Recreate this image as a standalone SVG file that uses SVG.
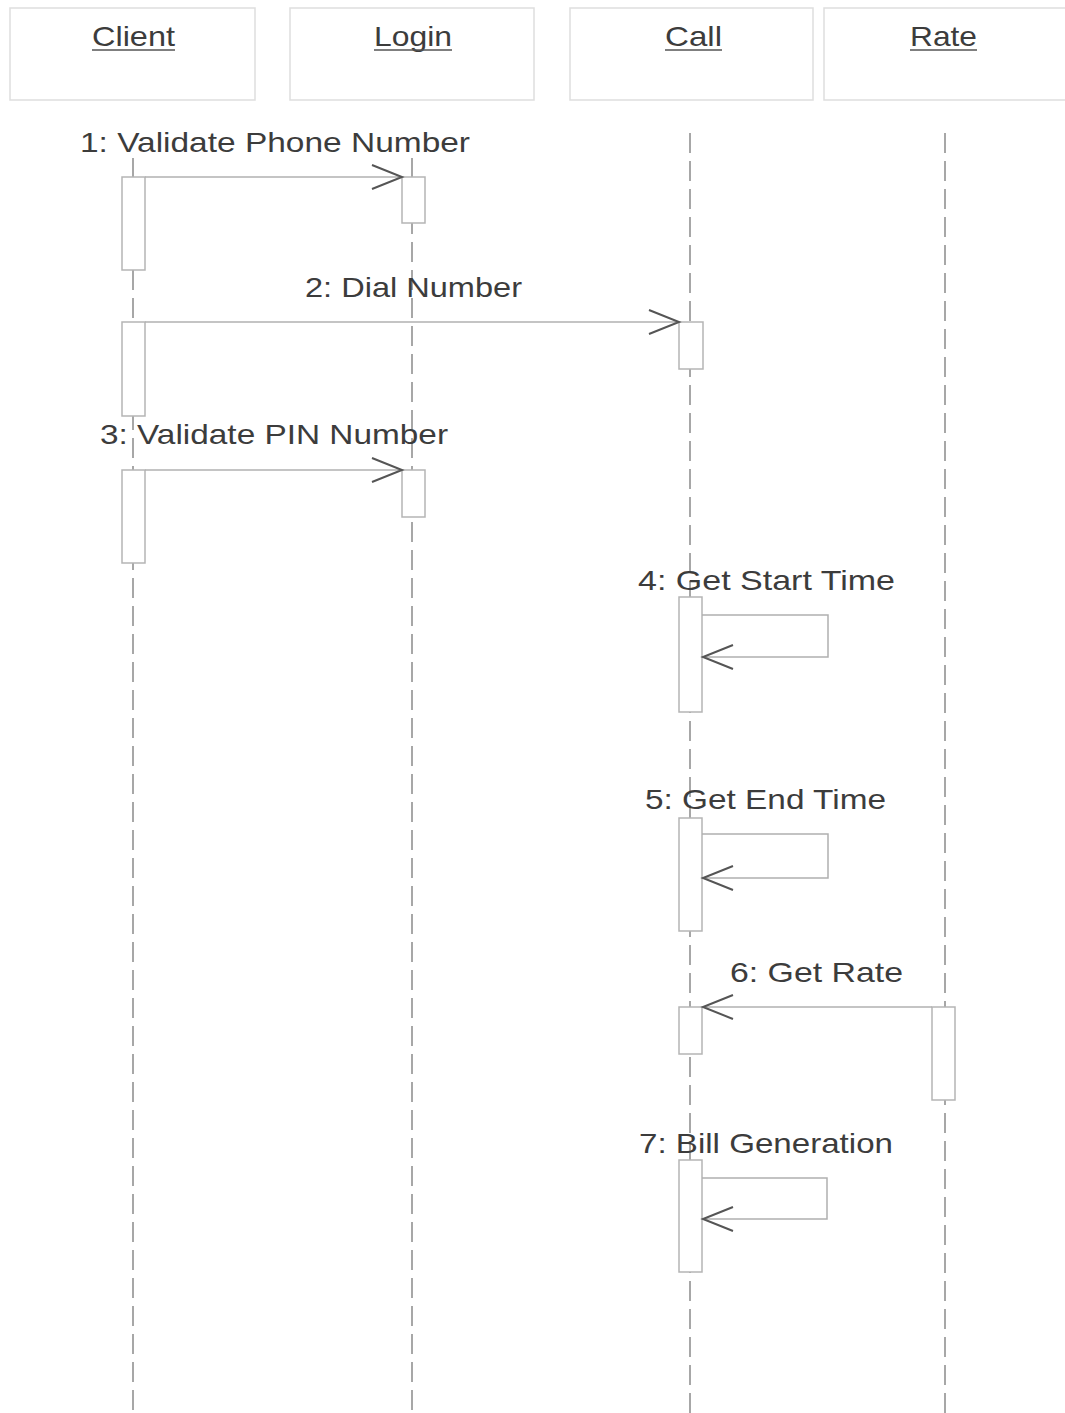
<svg xmlns="http://www.w3.org/2000/svg" width="1065" height="1413" viewBox="0 0 1065 1413">
<style>
text{font-family:"Liberation Sans",Arial,sans-serif;font-size:28px;fill:#3c3c3c}
.hdr{fill:#fff;stroke:#dedede;stroke-width:1.5}
.ul{stroke:#555;stroke-width:1.5}
.life{stroke:#8a8a8a;stroke-width:1.5;stroke-dasharray:20 8;fill:none}
.act{fill:#fff;stroke:#b5b5b5;stroke-width:1.5}
.msg{stroke:#b0b0b0;stroke-width:1.5;fill:none}
.head{stroke:#555;stroke-width:2;fill:none}
</style>
<rect width="1065" height="1413" fill="#fff"/>
<g id="lifelines">
<line class="life" x1="133" y1="158" x2="133" y2="1413"/>
<line class="life" x1="412" y1="158" x2="412" y2="1413"/>
<line class="life" x1="690" y1="133" x2="690" y2="1413"/>
<line class="life" x1="945" y1="133" x2="945" y2="1413"/>
</g>
<g id="client"><rect class="hdr" x="10" y="8" width="245" height="92"/><text x="92" y="46" textLength="83" lengthAdjust="spacingAndGlyphs">Client</text><line class="ul" x1="92" y1="50" x2="175" y2="50"/></g>
<g id="login"><rect class="hdr" x="290" y="8" width="244" height="92"/><text x="374" y="46" textLength="78" lengthAdjust="spacingAndGlyphs">Login</text><line class="ul" x1="374" y1="50" x2="452" y2="50"/></g>
<g id="call"><rect class="hdr" x="570" y="8" width="243" height="92"/><text x="665" y="46" textLength="57" lengthAdjust="spacingAndGlyphs">Call</text><line class="ul" x1="665" y1="50" x2="722" y2="50"/></g>
<g id="rate"><rect class="hdr" x="824" y="8" width="245" height="92"/><text x="910" y="46" textLength="67" lengthAdjust="spacingAndGlyphs">Rate</text><line class="ul" x1="910" y1="50" x2="977" y2="50"/></g>
<g id="activations">
<rect class="act" x="122" y="177" width="23" height="93"/>
<rect class="act" x="402" y="177" width="23" height="46"/>
<rect class="act" x="122" y="322" width="23" height="94"/>
<rect class="act" x="679" y="322" width="24" height="47"/>
<rect class="act" x="122" y="470" width="23" height="93"/>
<rect class="act" x="402" y="470" width="23" height="47"/>
<rect class="act" x="679" y="597" width="23" height="115"/>
<rect class="act" x="679" y="818" width="23" height="113"/>
<rect class="act" x="679" y="1007" width="23" height="47"/>
<rect class="act" x="932" y="1007" width="23" height="93"/>
<rect class="act" x="679" y="1160" width="23" height="112"/>
</g>
<g id="connectors">
<line class="msg" x1="145" y1="177" x2="402" y2="177"/>
<polyline class="head" points="372,165 402,177 372,189"/>
<line class="msg" x1="145" y1="322" x2="679" y2="322"/>
<polyline class="head" points="649,310 679,322 649,334"/>
<line class="msg" x1="145" y1="470" x2="402" y2="470"/>
<polyline class="head" points="372,458 402,470 372,482"/>
<polyline class="msg" points="702,615 828,615 828,657 702,657"/>
<polyline class="head" points="733,645 703,657 733,669"/>
<polyline class="msg" points="702,834 828,834 828,878 702,878"/>
<polyline class="head" points="733,866 703,878 733,890"/>
<line class="msg" x1="932" y1="1007" x2="702" y2="1007"/>
<polyline class="head" points="733,995 703,1007 733,1019"/>
<polyline class="msg" points="702,1178 827,1178 827,1219 702,1219"/>
<polyline class="head" points="733,1207 703,1219 733,1231"/>
</g>
<g id="labels">
<text x="80" y="152" textLength="390" lengthAdjust="spacingAndGlyphs">1: Validate Phone Number</text>
<text x="305" y="297" textLength="217" lengthAdjust="spacingAndGlyphs">2: Dial Number</text>
<text x="100" y="444" textLength="348" lengthAdjust="spacingAndGlyphs">3: Validate PIN Number</text>
<text x="638" y="590" textLength="257" lengthAdjust="spacingAndGlyphs">4: Get Start Time</text>
<text x="645" y="809" textLength="241" lengthAdjust="spacingAndGlyphs">5: Get End Time</text>
<text x="730" y="982" textLength="173" lengthAdjust="spacingAndGlyphs">6: Get Rate</text>
<text x="639" y="1153" textLength="254" lengthAdjust="spacingAndGlyphs">7: Bill Generation</text>
</g>
</svg>
